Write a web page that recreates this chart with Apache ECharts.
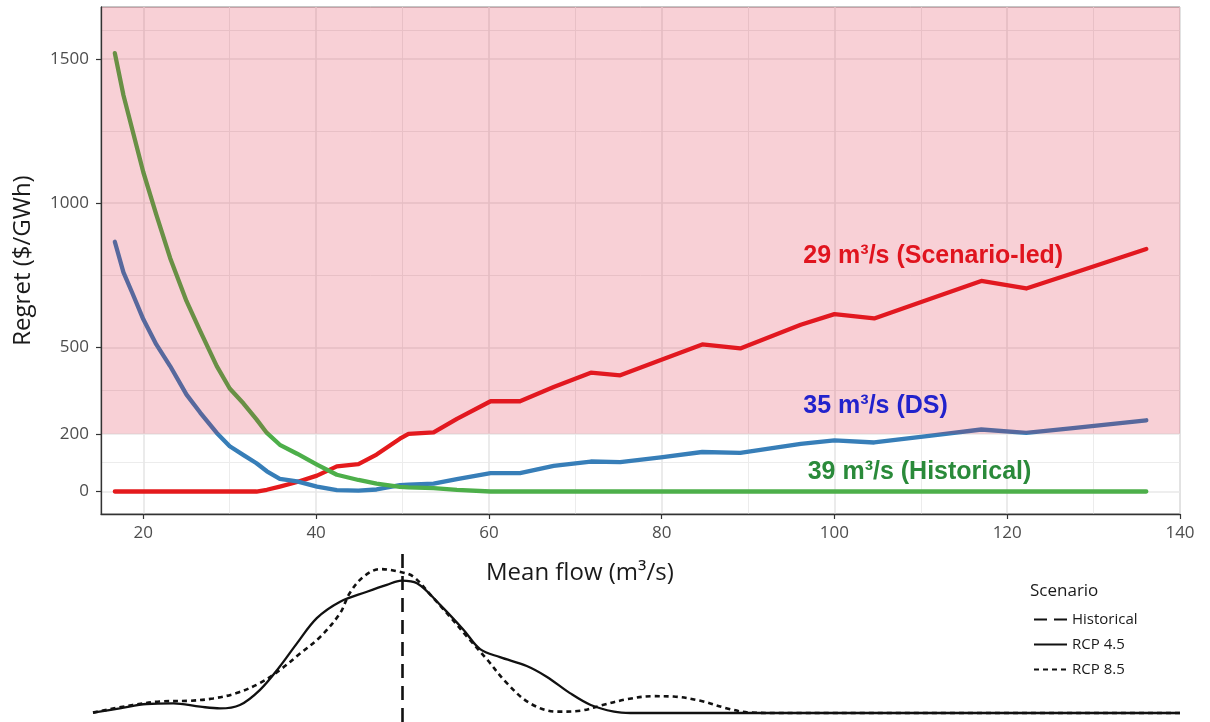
<!DOCTYPE html>
<html>
<head>
<meta charset="utf-8">
<title>Regret vs mean flow</title>
<script src="https://cdn.jsdelivr.net/npm/echarts@6/dist/echarts.min.js"></script>
<style>
  html, body { margin: 0; padding: 0; background: #fff; }
  #chart { width: 1210px; height: 722px; }
</style>
</head>
<body>
<div id="chart"></div>
<script>
// ---- Regret curves: mean flow (m³/s) against regret ($/GWh) ----
const flow = [16.7, 17.7, 18.7, 20, 21.5, 23.1, 25, 26.6, 28.5, 30, 31.6, 33.1, 34.3, 35.8, 37.8, 40.1,
  42.4, 44.9, 47, 49.7, 50.7, 53.6, 56.3, 60.2, 63.6, 67.5, 71.8, 75.2, 79.9, 84.7, 89.1, 96.1, 100,
  104.6, 111.2, 117, 122.2, 127.6, 136.1];
const regretScenarioLed = [0, 0, 0, 0, 0, 0, 0, 0, 0, 0, 0, 0, 6, 17, 33, 55, 87, 95, 128, 183, 200, 205,
  252, 313, 313, 362, 412, 403, 456, 510, 496, 578, 615, 600, 669, 730, 704, 757, 841];
const regretDS = [866, 760, 690, 597, 510, 435, 336, 273, 203, 157, 126, 98, 70, 44, 35, 17, 5, 3, 7, 22,
  24, 27, 43, 64, 64, 89, 104, 102, 118, 137, 134, 165, 177, 170, 194, 215, 203, 220, 247];
const regretHistorical = [1520, 1374, 1258, 1107, 960, 810, 660, 555, 435, 357, 305, 250, 203, 162, 131,
  93, 58, 40, 27, 16, 14, 12, 6, 0, 0, 0, 0, 0, 0, 0, 0, 0, 0, 0, 0, 0, 0, 0, 0];

// ---- Flow densities per scenario (×10⁻³) ----
const densityFlow45 = [14.2, 17.3, 20.4, 23.5, 26.6, 28.9, 31.2, 33.5, 35.8, 37.8, 40.1, 42.8, 45.9, 48.2,
  49.9, 51.7, 54.4, 57.1, 59.0, 61.3, 64.4, 66.7, 69.4, 71.8, 74.5, 76.4, 140];
const densityRCP45 = [0.1, 1.2, 2.35, 2.5, 1.65, 1.2, 2.1, 6.0, 12.1, 18.2, 24.8, 29.1, 31.7, 33.5,
  34.6, 33.9, 28.2, 21.7, 16.7, 14.6, 12.3, 9.5, 5.2, 2.1, 0.35, 0, 0];
const densityFlow85 = [14.2, 18.8, 21.9, 25.4, 28.1, 30.8, 33.5, 35.8, 38.2, 40.5, 42.8, 43.9, 45.5, 47.4,
  49.7, 51.3, 53.6, 55.5, 57.5, 59.8, 62.1, 64.8, 67.9, 70.6, 72.9, 76.0, 79.1, 81.4, 84.5, 87.6, 90.3,
  93.8, 140];
const densityRCP85 = [0.1, 2.1, 3.0, 3.2, 3.8, 5.2, 7.8, 11.2, 15.6, 19.9, 26.1, 31.3, 35.6, 37.6,
  36.9, 35.6, 30.0, 25.2, 19.9, 14.0, 7.8, 2.5, 0.35, 0.6, 1.9, 3.6, 4.4, 4.3, 3.2, 1.2, 0.1, 0, 0];
const historicalMeanFlow = 50;

// ---- Axes, breaks and threshold ----
const xTicks = [20, 40, 60, 80, 100, 120, 140];
const xMinorBreaks = [30, 50, 70, 90, 110, 130];
const yTicks = [0, 200, 500, 1000, 1500];
const yMinorBreaks = [100, 350, 750, 1250, 1600];
const regretThreshold = 200;

const designNames = ['29 m³/s (Scenario-led)', '35 m³/s (DS)', '39 m³/s (Historical)'];

// ---- Layout / styling ----
const FONT = "'Open Sans', 'Noto Sans', sans-serif";
const LABEL_FONT = "'Liberation Sans', Arial, sans-serif";
const X_RANGE = [15.1, 140];
const Y_RANGE = [-78, 1680];
const DENS_X_RANGE = [14.2, 140];
const DENS_Y_RANGE = [-2.35, 42.6];
const lineColors = ['#e41a1c', '#377eb8', '#4daf4a'];
const labelColors = ['#e0141e', '#2222cc', '#2a8a3a'];
const labelAnchors = [[96.4, 817], [96.4, 297], [96.9, 68]];

const pairs = (xs, ys) => xs.map((x, i) => [x, ys[i]]);

const gridLineData = [
  ...xMinorBreaks.map(v => ({ xAxis: v, lineStyle: { width: 1, color: '#ececec', type: 'solid' } })),
  ...yMinorBreaks.map(v => ({ yAxis: v, lineStyle: { width: 1, color: '#ececec', type: 'solid' } })),
  ...xTicks.map(v => ({ xAxis: v, lineStyle: { width: 1.7, color: '#e8e8e8', type: 'solid' } })),
  ...yTicks.map(v => ({ yAxis: v, lineStyle: { width: 1.7, color: '#e8e8e8', type: 'solid' } }))
];

const regretSeries = [regretScenarioLed, regretDS, regretHistorical].map((vals, i) => ({
  name: designNames[i],
  type: 'line',
  xAxisIndex: 0,
  yAxisIndex: 0,
  z: 3,
  data: pairs(flow, vals),
  symbol: 'none',
  silent: true,
  lineStyle: { color: lineColors[i], width: 4.3, cap: 'round', join: 'round' },
  itemStyle: { color: lineColors[i] }
}));

const plainNumber = v => String(v);

const option = {
  animation: false,
  backgroundColor: '#ffffff',
  title: [
    {
      text: 'Mean flow (m³/s)', left: 486, top: 561, padding: 0,
      textStyle: { fontFamily: FONT, fontSize: 24, fontWeight: 'normal', color: '#1a1a1a' }
    },
    {
      text: 'Scenario', left: 1030, top: 583, padding: 0,
      textStyle: { fontFamily: FONT, fontSize: 17, fontWeight: 'normal', color: '#1a1a1a' }
    }
  ],
  legend: {
    data: ['Historical', 'RCP 4.5', 'RCP 8.5'],
    orient: 'vertical',
    left: 1033,
    top: 612,
    padding: 0,
    itemWidth: 33,
    itemHeight: 14,
    itemGap: 10,
    selectedMode: false,
    itemStyle: { opacity: 0, borderWidth: 0 },
    textStyle: { fontFamily: FONT, fontSize: 15, color: '#1a1a1a' }
  },
  grid: [
    { left: 101, top: 7, width: 1079, height: 507, show: true, borderColor: '#8a8a8a', borderWidth: 1, backgroundColor: 'transparent' },
    { left: 93, top: 550, width: 1087, height: 172 }
  ],
  xAxis: [
    {
      type: 'value', gridIndex: 0, min: X_RANGE[0], max: X_RANGE[1], z: 15,
      axisLine: { show: true, onZero: false, lineStyle: { color: '#333', width: 1.3 } },
      axisTick: { show: true, length: 5, customValues: xTicks, lineStyle: { color: '#333', width: 1.2 } },
      axisLabel: { customValues: xTicks, formatter: plainNumber, margin: 11, fontFamily: FONT, fontSize: 17, color: '#4d4d4d' },
      splitLine: { show: false }
    },
    { type: 'value', gridIndex: 1, min: DENS_X_RANGE[0], max: DENS_X_RANGE[1], show: false }
  ],
  yAxis: [
    {
      type: 'value', gridIndex: 0, min: Y_RANGE[0], max: Y_RANGE[1], z: 15,
      name: 'Regret ($/GWh)', nameLocation: 'middle', nameGap: 66,
      nameTextStyle: { fontFamily: FONT, fontSize: 24, color: '#1a1a1a' },
      axisLine: { show: true, onZero: false, lineStyle: { color: '#333', width: 1.3 } },
      axisTick: { show: true, length: 5, customValues: yTicks, lineStyle: { color: '#333', width: 1.2 } },
      axisLabel: { customValues: yTicks, formatter: plainNumber, margin: 12, fontFamily: FONT, fontSize: 17, color: '#4d4d4d' },
      splitLine: { show: false }
    },
    { type: 'value', gridIndex: 1, min: DENS_Y_RANGE[0], max: DENS_Y_RANGE[1], show: false }
  ],
  series: [
    {
      // panel grid lines (major and minor breaks)
      type: 'line', xAxisIndex: 0, yAxisIndex: 0, data: [], z: 1, silent: true,
      markLine: { z: 1, silent: true, symbol: 'none', label: { show: false }, animation: false, data: gridLineData }
    },
    ...regretSeries,
    {
      // translucent band marking regret above the threshold
      type: 'line', xAxisIndex: 0, yAxisIndex: 0, data: [], z: 10, silent: true,
      markArea: {
        z: 10, silent: true, animation: false,
        itemStyle: { color: 'rgba(222, 22, 52, 0.2)' },
        data: [[{ yAxis: regretThreshold }, { yAxis: Y_RANGE[1] }]]
      }
    },
    {
      type: 'scatter', xAxisIndex: 0, yAxisIndex: 0, z: 20, silent: true,
      symbolSize: 0,
      itemStyle: { opacity: 1 },
      data: designNames.map((name, i) => ({
        name, value: labelAnchors[i],
        label: { color: labelColors[i] }
      })),
      label: {
        show: true, position: 'right', distance: 0,
        formatter: p => p.name,
        fontFamily: LABEL_FONT, fontSize: 25, fontWeight: 'bold'
      }
    },
    {
      name: 'Historical', type: 'line', xAxisIndex: 1, yAxisIndex: 1, data: [], symbol: 'none',
      lineStyle: { color: '#111', width: 2.8, type: [13, 7] }, itemStyle: { color: '#111' },
      markLine: {
        silent: true, symbol: 'none', label: { show: false }, animation: false,
        lineStyle: { color: '#111', width: 2.6, type: [14, 8] },
        data: [{ xAxis: historicalMeanFlow }]
      }
    },
    {
      name: 'RCP 4.5', type: 'line', xAxisIndex: 1, yAxisIndex: 1, symbol: 'none', smooth: 0.35,
      data: pairs(densityFlow45, densityRCP45),
      lineStyle: { color: '#111', width: 2.3, type: 'solid' }, itemStyle: { color: '#111' }
    },
    {
      name: 'RCP 8.5', type: 'line', xAxisIndex: 1, yAxisIndex: 1, symbol: 'none', smooth: 0.35,
      data: pairs(densityFlow85, densityRCP85),
      lineStyle: { color: '#111', width: 2.6, type: [5, 4] }, itemStyle: { color: '#111' }
    }
  ]
};

const chart = echarts.init(document.getElementById('chart'), null, { renderer: 'canvas' });
chart.setOption(option);
</script>
</body>
</html>
